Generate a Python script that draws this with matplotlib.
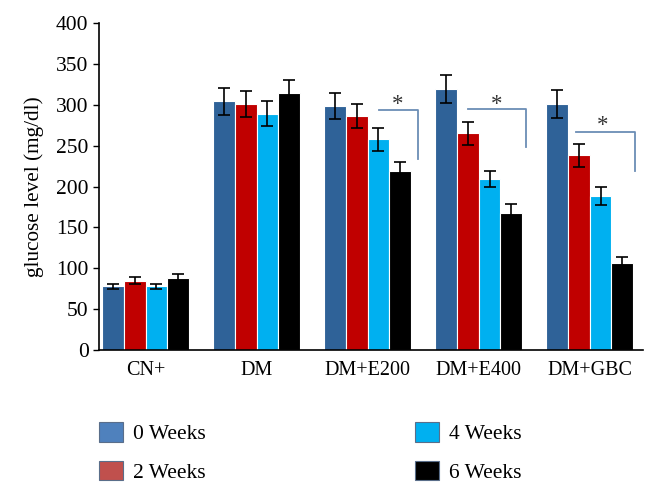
import matplotlib
matplotlib.use("Agg")
import matplotlib.pyplot as plt
import numpy as np

categories = ["CN+", "DM", "DM+E200", "DM+E400", "DM+GBC"]
series_names = ["0 Weeks", "2 Weeks", "4 Weeks", "6 Weeks"]
w0 = [78, 304, 298, 319, 301]
w2 = [85, 301, 286, 265, 238]
w4 = [78, 289, 258, 209, 188]
w6 = [88, 314, 219, 168, 107]
e0 = [3, 16, 16, 17, 17]
e2 = [4, 16, 15, 14, 14]
e4 = [3, 15, 14, 10, 11]
e6 = [5, 16, 11, 10, 7]
yticks = [0, 50, 100, 150, 200, 250, 300, 350, 400]

# significance brackets: (x_start, x_end, y_line, y_drop, star_x, star_y)
brackets = [
    (2.10, 2.45, 293, 234, 2.27, 287),
    (2.90, 3.43, 295, 248, 3.16, 288),
    (3.88, 4.41, 267, 219, 4.12, 262),
]

bar_colors = ["#2f6298", "#c00000", "#00b0f0", "#000000"]
legend_colors = ["#4f81bd", "#c0504d", "#00b0f0", "#000000"]

plt.rcParams['font.family'] = ['Liberation Serif', 'DejaVu Serif']

fig = plt.figure(figsize=(6.57, 4.96), dpi=100)
ax = fig.add_axes([99/657, 1 - 350/496, (643 - 99)/657, (350 - 23)/496])

x = np.arange(len(categories))
vals = [w0, w2, w4, w6]
errs = [e0, e2, e4, e6]
bw = 0.195
for i in range(4):
    pos = x + (i - 1.5) * bw
    ax.bar(pos, vals[i], width=bw, color=bar_colors[i], edgecolor="white",
           linewidth=0.8, zorder=2)
    ax.errorbar(pos, vals[i], yerr=errs[i], fmt="none", ecolor="black",
                elinewidth=1.2, capsize=4, capthick=1.2, zorder=3)

for (xs, xe, yl, yd, sx, sy) in brackets:
    ax.plot([xs, xe, xe], [yl, yl, yd], color="#6b8db5", lw=1.3, zorder=4)
    ax.text(sx, sy, "*", ha="center", va="bottom", fontsize=16.5, color="#333333")

ax.set_xlim(-0.42, 4.48)
ax.set_ylim(0, 400)
ax.set_yticks(yticks)
ax.set_xticks(x)
ax.set_xticklabels(categories, fontsize=14.5)
ax.tick_params(axis="y", labelsize=15.5, length=4, direction="out", width=1)
ax.tick_params(axis="x", length=0, pad=8)
ax.spines["top"].set_visible(False)
ax.spines["right"].set_visible(False)
ax.spines["left"].set_linewidth(1.2)
ax.spines["bottom"].set_linewidth(1.2)
ax.set_ylabel("glucose level (mg/dl)", fontsize=15.3, labelpad=9)

handles = [matplotlib.patches.Patch(facecolor=legend_colors[i], edgecolor="#5a6e8a",
                                    linewidth=0.8) for i in range(4)]
fig.legend(handles, series_names, loc="upper left", bbox_to_anchor=(80/657, 1 - 403/496),
           ncol=2, frameon=False, fontsize=15.5, handlelength=1.1, handleheight=1.0,
           columnspacing=9.75, labelspacing=0.75, handletextpad=0.45)

fig.savefig("out.png", dpi=100)
